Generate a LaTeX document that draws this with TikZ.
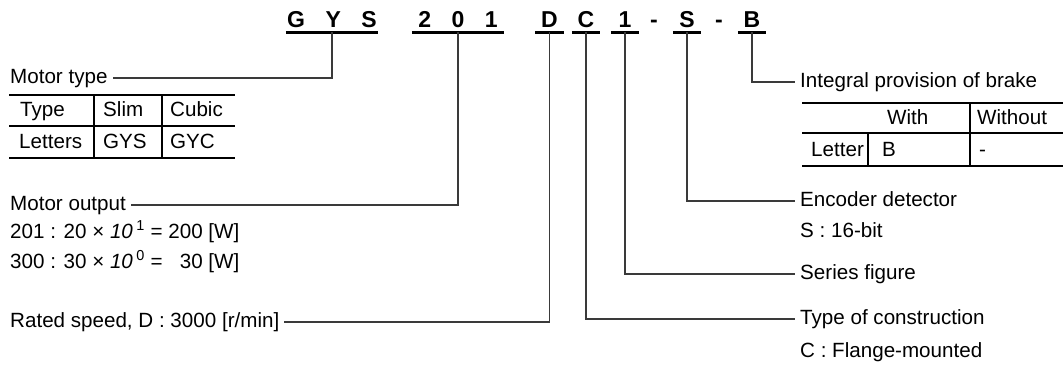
\documentclass[tikz,border=0pt]{standalone}
\usepackage{fontspec}
\setmainfont{Liberation Sans}
\usetikzlibrary{positioning}
\definecolor{leadLine}{HTML}{3A3A3A}
\definecolor{ruleLine}{HTML}{000000}

\begin{document}
\begin{tikzpicture}[
  x=1pt, y=-1pt,
  font=\fontsize{20.6}{25}\selectfont,
  code/.style   ={font=\fontsize{23}{27}\selectfont\bfseries, anchor=base,
                  inner sep=0pt, text depth=5pt},
  bar/.style    ={line width=3.2pt},
  lead/.style   ={draw=leadLine, line width=1.1pt},
  lbl/.style    ={anchor=west, inner xsep=5pt, inner ysep=0pt,
                  text height=15pt, text depth=4.5pt},
  cell/.style   ={anchor=west, inner sep=0pt, text height=15pt, text depth=4.5pt},
  rule/.style   ={draw=ruleLine, line width=2pt},
  sep/.style    ={draw=ruleLine, line width=1.5pt},
]
\useasboundingbox (0,0) rectangle (1063,367);

% ----- Model code -----
\node[code, minimum width=92pt] (GYS) at (332, 27) {G\hspace{20.5pt}Y\hspace{20.5pt}S};
\node[code, minimum width=92pt] (OUT) at (458, 27) {2\hspace{20.5pt}0\hspace{20.5pt}1};
\node[code, minimum width=28pt] (SPD) at (549.5, 27) {D};
\node[code, minimum width=28pt] (CON) at (586, 27) {C};
\node[code, minimum width=28pt] (SER) at (625, 27) {1};
\node[code] (DASH1) at (654, 27) {-};
\node[code, minimum width=28pt] (ENC) at (687, 27) {S};
\node[code] (DASH2) at (719, 27) {-};
\node[code, minimum width=28pt] (BRK) at (752, 27) {B};

\foreach \n in {GYS, OUT, SPD, CON, SER, ENC, BRK}
  \draw[bar] (\n.south west) -- (\n.south east);

% ----- Motor type -----
\node[lbl] (MTYPE) at (5, 78) {Motor type};

\node[cell] (T11) at (20, 111.5) {Type};
\node[cell] (T12) at (103, 111.5) {Slim};
\node[cell] (T13) at (170, 111.5) {Cubic};
\node[cell] (T21) at (19, 143) {Letters};
\node[cell] (T22) at (103, 143) {GYS};
\node[cell] (T23) at (170, 143) {GYC};

\draw[rule] (9,95) -- (235,95);
\draw[rule] (9,126) -- (235,126);
\draw[rule] (9,158) -- (235,158);
\draw[sep] (94,95) -- (94,158);
\draw[sep] (162,95) -- (162,158);

% ----- Motor output -----
\node[lbl] (MOUT) at (5, 205) {Motor output};
\node[lbl] (MOUT1) at (5, 233)
  {201 : 20 × \textit{10}\,\textsuperscript{1} = 200 [W]};
\node[lbl] (MOUT2) at (5, 263)
  {300 : 30 × \textit{10}\,\textsuperscript{0} = \phantom{2}30 [W]};

% ----- Rated speed -----
\node[lbl] (RSPEED) at (5, 322) {Rated speed, D : 3000 [r/min]};

% ----- Integral provision of brake -----
\node[lbl] (BRAKE) at (795, 82) {Integral provision of brake};

\node[cell] (B12) at (887, 119) {With};
\node[cell] (B13) at (977, 119) {Without};
\node[cell] (B21) at (811, 151) {Letter};
\node[cell] (B22) at (882, 151) {B};
\node[cell] (B23) at (979, 151) {-};

\draw[rule] (802,103) -- (1063,103);
\draw[rule] (802,133) -- (1063,133);
\draw[rule] (802,166) -- (1063,166);
\draw[sep] (868,133) -- (868,166);
\draw[sep] (970,103) -- (970,166);

% ----- Encoder, series, construction -----
\node[lbl] (ENCODER) at (795, 201) {Encoder detector};
\node[lbl] (ENCODER2) at (795, 232) {S : 16-bit};
\node[lbl] (SERIES) at (795, 274) {Series figure};
\node[lbl] (CONSTR) at (795, 319) {Type of construction};
\node[lbl] (CONSTR2) at (795, 352) {C : Flange-mounted};

% ----- Leader lines -----
\draw[lead] (GYS.south) |- (MTYPE.east);
\draw[lead] (OUT.south) |- (MOUT.east);
\draw[lead] (SPD.south) |- (RSPEED.east);
\draw[lead] (CON.south) |- (CONSTR.west);
\draw[lead] (SER.south) |- (SERIES.west);
\draw[lead] (ENC.south) |- (ENCODER.west);
\draw[lead] (BRK.south) |- (BRAKE.west);

\end{tikzpicture}
\end{document}
